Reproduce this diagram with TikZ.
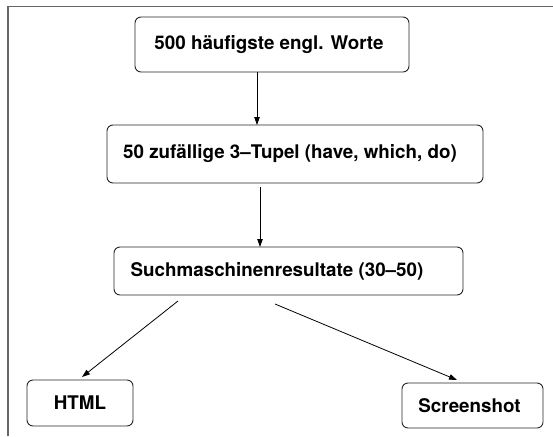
\documentclass[tikz,border=0pt]{standalone}
\usepackage{fontspec}
\setmainfont{TeX Gyre Heros}
\usetikzlibrary{arrows.meta}
\begin{document}
\begin{tikzpicture}[x=1pt,y=-1pt,
  box/.style={draw=black!85, line width=0.9pt, rounded corners=6pt, inner sep=0pt,
    font=\fontsize{18.8}{22}\selectfont\bfseries},
  conn/.style={draw=black, line width=0.8pt, -{Triangle[length=8pt,width=5.5pt]}},
  frame/.style={draw=black!60, line width=1.5pt}]
\useasboundingbox (0,0) rectangle (553,436);
\draw[frame] (8,436) -- (8,6.5) -- (553,6.5);
\node[box, minimum width=274pt, minimum height=55pt] (b1) at (272,44.5) {500 häufigste engl. Worte\hspace*{6pt}};
\node[box, minimum width=376pt, minimum height=58pt] (b2) at (295,154) {50 zufällige 3–Tupel (have, which, do)\hspace*{10pt}};
\node[box, minimum width=349pt, minimum height=48pt] (b3) at (288.5,271) {Suchmaschinenresultate (30–50)\hspace*{23pt}};
\node[box, minimum width=106pt, minimum height=46pt] (h) at (80,403) {HTML};
\node[box, minimum width=141pt, minimum height=45pt] (s) at (472.5,405.5) {Screenshot\hspace*{6pt}};
\coordinate (a1s) at (257,72);
\coordinate (a1e) at (257,125);
\coordinate (a2s) at (260,187);
\coordinate (a2e) at (260,247);
\coordinate (a3s) at (178,301);
\coordinate (a3e) at (82,377);
\coordinate (a4s) at (275,304);
\coordinate (a4e) at (457,380);
\draw[conn] (a1s) -- (a1e);
\draw[conn] (a2s) -- (a2e);
\draw[conn] (a3s) -- (a3e);
\draw[conn] (a4s) -- (a4e);
\end{tikzpicture}
\end{document}
